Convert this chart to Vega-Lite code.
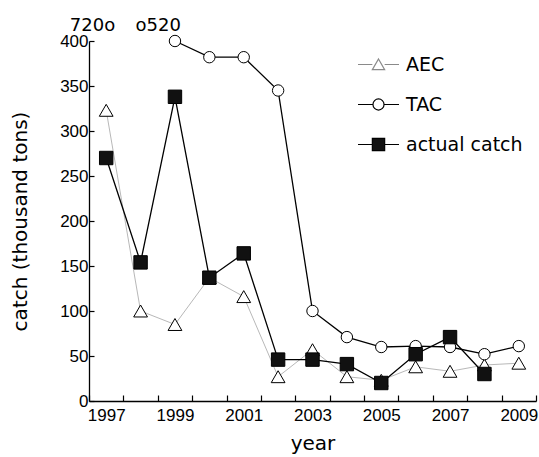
{
  "$schema": "https://vega.github.io/schema/vega-lite/v6.json",
  "width": 447,
  "height": 360,
  "autosize": {"type": "none"},
  "padding": {"left": 89, "top": 41, "right": 3, "bottom": 56},
  "background": "white",
  "config": {
    "view": {"stroke": null},
    "axis": {
      "grid": false,
      "domainColor": "black",
      "domainWidth": 1.3,
      "tickColor": "black",
      "tickWidth": 1.2,
      "labelFont": "Liberation Sans",
      "labelFontSize": 17,
      "labelColor": "black",
      "titleFont": "DejaVu Sans",
      "titleFontSize": 20,
      "titleFontWeight": "normal",
      "titleColor": "black"
    }
  },
  "datasets": {
    "catch": [
      {"year": 1997, "series": "AEC", "value": 323},
      {"year": 1998, "series": "AEC", "value": 100},
      {"year": 1999, "series": "AEC", "value": 85},
      {"year": 2000, "series": "AEC", "value": 137},
      {"year": 2001, "series": "AEC", "value": 116},
      {"year": 2002, "series": "AEC", "value": 27},
      {"year": 2003, "series": "AEC", "value": 57},
      {"year": 2004, "series": "AEC", "value": 27},
      {"year": 2005, "series": "AEC", "value": 23},
      {"year": 2006, "series": "AEC", "value": 38},
      {"year": 2007, "series": "AEC", "value": 33},
      {"year": 2008, "series": "AEC", "value": 40},
      {"year": 2009, "series": "AEC", "value": 42},
      {"year": 1999, "series": "TAC", "value": 400},
      {"year": 2000, "series": "TAC", "value": 382},
      {"year": 2001, "series": "TAC", "value": 382},
      {"year": 2002, "series": "TAC", "value": 345},
      {"year": 2003, "series": "TAC", "value": 100},
      {"year": 2004, "series": "TAC", "value": 71},
      {"year": 2005, "series": "TAC", "value": 60},
      {"year": 2006, "series": "TAC", "value": 61},
      {"year": 2007, "series": "TAC", "value": 60},
      {"year": 2008, "series": "TAC", "value": 52},
      {"year": 2009, "series": "TAC", "value": 61},
      {"year": 1997, "series": "actual catch", "value": 270},
      {"year": 1998, "series": "actual catch", "value": 154},
      {"year": 1999, "series": "actual catch", "value": 338},
      {"year": 2000, "series": "actual catch", "value": 137},
      {"year": 2001, "series": "actual catch", "value": 164},
      {"year": 2002, "series": "actual catch", "value": 46},
      {"year": 2003, "series": "actual catch", "value": 46},
      {"year": 2004, "series": "actual catch", "value": 41},
      {"year": 2005, "series": "actual catch", "value": 20},
      {"year": 2006, "series": "actual catch", "value": 52},
      {"year": 2007, "series": "actual catch", "value": 71},
      {"year": 2008, "series": "actual catch", "value": 30}
    ],
    "offscale": [
      {"year": 1997, "label": "720o"},
      {"year": 1998, "label": "o520"}
    ]
  },
  "encoding": {
    "x": {
      "field": "year",
      "type": "ordinal",
      "scale": {"type": "band", "paddingInner": 0, "paddingOuter": 0},
      "bandPosition": 0.5,
      "title": "year",
      "axis": {
        "tickBand": "extent",
        "labelExpr": "datum.value % 2 == 1 ? datum.label : ''",
        "labelAngle": 0,
        "labelOverlap": false,
        "tickSize": -6,
        "labelPadding": 12,
        "titlePadding": 10
      }
    }
  },
  "layer": [
    {
      "data": {"name": "offscale"},
      "transform": [{"filter": "datum.year == 1997"}],
      "mark": {"type": "text", "align": "right", "baseline": "middle", "dx": 9, "font": "DejaVu Sans", "fontSize": 18, "fill": "black"},
      "encoding": {
        "y": {"datum": 417, "type": "quantitative"},
        "text": {"field": "label", "type": "nominal"}
      }
    },
    {
      "data": {"name": "offscale"},
      "transform": [{"filter": "datum.year == 1998"}],
      "mark": {"type": "text", "align": "left", "baseline": "middle", "dx": -5, "font": "DejaVu Sans", "fontSize": 18, "fill": "black"},
      "encoding": {
        "y": {"datum": 417, "type": "quantitative"},
        "text": {"field": "label", "type": "nominal"}
      }
    },
    {
      "data": {"name": "catch"},
      "transform": [{"filter": "datum.series == 'AEC'"}],
      "mark": {"type": "line", "stroke": "#b8b8b8", "strokeWidth": 1},
      "encoding": {
        "y": {
          "field": "value",
          "type": "quantitative",
          "scale": {"domain": [0, 400], "nice": false},
          "title": "catch (thousand tons)",
          "axis": {
            "values": [0, 50, 100, 150, 200, 250, 300, 350, 400],
            "tickSize": -5,
            "labelPadding": 6,
            "titlePadding": 29
          }
        }
      }
    },
    {
      "data": {"name": "catch"},
      "transform": [{"filter": "datum.series != 'AEC'"}],
      "mark": {"type": "line", "stroke": "black", "strokeWidth": 1.3},
      "encoding": {
        "y": {"field": "value", "type": "quantitative"},
        "detail": {"field": "series", "type": "nominal"}
      }
    },
    {
      "data": {"name": "catch"},
      "mark": {"type": "point", "filled": true, "size": 1681, "opacity": 0, "strokeWidth": 1.2},
      "encoding": {
        "y": {"field": "value", "type": "quantitative"},
        "shape": {
          "field": "series",
          "type": "nominal",
          "scale": {
            "domain": ["AEC", "TAC", "actual catch"],
            "range": [
              "M-1,0H-0.3M0.3,0H1M0,-0.27L0.3,0.25L-0.3,0.25Z",
              "M-1,0H-0.27M0.27,0H1M-0.27,0A0.27,0.27 0 1,0 0.27,0A0.27,0.27 0 1,0 -0.27,0Z",
              "M-1,0H-0.3M0.3,0H1M-0.3,-0.3H0.3V0.3H-0.3Z"
            ]
          },
          "legend": {
            "orient": "none",
            "legendX": 268,
            "legendY": 2,
            "title": null,
            "padding": 0,
            "symbolSize": 1681,
            "symbolOpacity": 1,
            "symbolStrokeWidth": 1.2,
            "labelFont": "DejaVu Sans",
            "labelFontSize": 19,
            "labelColor": "black",
            "labelOffset": 6,
            "rowPadding": 8
          }
        },
        "fill": {
          "field": "series",
          "type": "nominal",
          "scale": {"domain": ["AEC", "TAC", "actual catch"], "range": ["white", "white", "#111"]}
        },
        "stroke": {
          "field": "series",
          "type": "nominal",
          "scale": {"domain": ["AEC", "TAC", "actual catch"], "range": ["#8a8a8a", "black", "black"]}
        }
      }
    },
    {
      "data": {"name": "catch"},
      "transform": [{"filter": "datum.series == 'AEC'"}],
      "mark": {"type": "point", "shape": "triangle-up", "filled": true, "fill": "white", "stroke": "black", "strokeWidth": 1, "opacity": 1, "size": 190},
      "encoding": {
        "y": {"field": "value", "type": "quantitative"}
      }
    },
    {
      "data": {"name": "catch"},
      "transform": [{"filter": "datum.series == 'TAC'"}],
      "mark": {"type": "point", "shape": "circle", "filled": true, "fill": "white", "stroke": "black", "strokeWidth": 1, "opacity": 1, "size": 130},
      "encoding": {
        "y": {"field": "value", "type": "quantitative"}
      }
    },
    {
      "data": {"name": "catch"},
      "transform": [{"filter": "datum.series == 'actual catch'"}],
      "mark": {"type": "point", "shape": "square", "filled": true, "fill": "#111", "stroke": "black", "strokeWidth": 1, "opacity": 1, "size": 180},
      "encoding": {
        "y": {"field": "value", "type": "quantitative"}
      }
    }
  ]
}
